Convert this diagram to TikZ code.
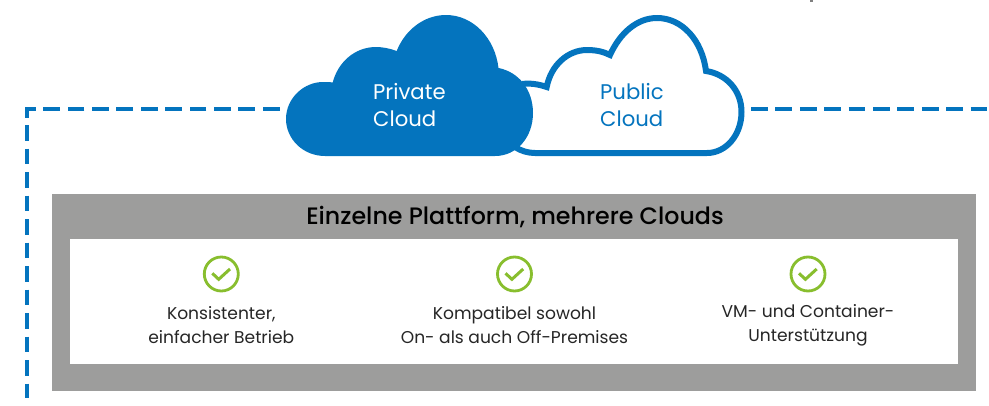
\documentclass[tikz,border=0pt]{standalone}
\usepackage{fontspec}
\setmainfont{Poppins}
\newfontfamily\titlefont{Poppins Medium}
\definecolor{cloudblue}{HTML}{0474BE}
\definecolor{panelgrey}{HTML}{9D9D9C}
\definecolor{okgreen}{HTML}{88BE2E}
\definecolor{inktext}{HTML}{262626}
\tikzset{
  dashline/.style={cloudblue,line width=4pt,dash pattern=on 16.7pt off 7.7pt},
  dashdown/.style={cloudblue,line width=4pt,dash pattern=on 15.8pt off 7.7pt},
  cloudlabel/.style={align=left,anchor=west,inner sep=0pt,font=\fontsize{21.2}{27}\selectfont},
  bodytext/.style={align=center,inner sep=0pt,text=inktext,font=\fontsize{17.1}{24}\selectfont},
  titletext/.style={inner sep=0pt,text=black,font=\titlefont\fontsize{23.75}{24}\selectfont},
  ring/.style={circle,draw=okgreen,line width=2.8pt,minimum size=34pt,inner sep=0pt},
  tick/.style={okgreen,line width=3pt}
}
\begin{document}
\begin{tikzpicture}[x=1pt,y=-1pt]
\useasboundingbox (0,0) rectangle (989,405);
% dashed frame
\coordinate (hl) at (279.5,109.3);
\coordinate (corner) at (27,109.3);
\coordinate (cornerend) at (27,118);
\coordinate (vt) at (27,125);
\coordinate (vb) at (27,398);
\coordinate (hr) at (751,109.3);
\coordinate (hre) at (989,109.3);
\draw[dashline,line join=miter] (hl) -- (corner) -- (cornerend);
\draw[dashdown] (vt) -- (vb);
\draw[dashline] (hr) -- (hre);
% panel
\fill[panelgrey] (52.3,194) rectangle (975.7,390.7);
\fill[white] (70.3,239) rectangle (957.7,364);
% public cloud
\draw[cloudblue,line width=6pt,line join=miter]
 (522,84) .. controls (530,83) and (538,84) .. (546.7,87)
 .. controls (551,65) and (568,50) .. (587,50)
 .. controls (597,50) and (604,52) .. (610,55)
 .. controls (620,33) and (637,18) .. (657,18)
 .. controls (682,18) and (702,40) .. (706,71)
 .. controls (726,74) and (741.5,90) .. (741.5,112)
 .. controls (741.5,135) and (726,153) .. (707,153)
 -- (535,153) .. controls (528,153) and (521,151) .. (515,147);
% private cloud
\fill[cloudblue]
 (325,156) .. controls (303,156) and (286,139) .. (286,119)
 .. controls (286,98) and (304,82) .. (323,82)
 .. controls (326,82) and (330,82) .. (332.7,82.5)
 .. controls (338,62) and (355,47) .. (376,47)
 .. controls (383,47) and (390,48.5) .. (396.7,51)
 .. controls (405,30) and (424,15) .. (446,15)
 .. controls (473,15) and (495,38) .. (498.5,68)
 .. controls (519,72) and (533,90) .. (533,113)
 .. controls (533,137) and (517,156) .. (495,156) -- cycle;
\node[cloudlabel,text=white] (private) at (373,105) {Private\\Cloud};
\node[cloudlabel,text=cloudblue] (public) at (600,105) {Public\\Cloud};
\node[titletext] (title) at (515,216.5) {Einzelne Plattform, mehrere Clouds};
% items
\foreach \n/\cx/\txt in {a/221.3/{Konsistenter,\\einfacher Betrieb},b/514.5/{Kompatibel sowohl\\On- als auch Off-Premises},c/808/{VM- und Container-\\Unterstützung}}{
  \node[ring] (ring\n) at (\cx,274) {};
  \draw[tick] ([shift={(-9,-0.7)}]ring\n.center) -- ([shift={(-2.6,5.3)}]ring\n.center) -- ([shift={(8.7,-5)}]ring\n.center);
  \node[bodytext] (text\n) at (\cx,325.5) {\txt};
}
% clipped mark at the top edge
\fill[gray] (810,0) rectangle (812.5,1.5);
\end{tikzpicture}
\end{document}
